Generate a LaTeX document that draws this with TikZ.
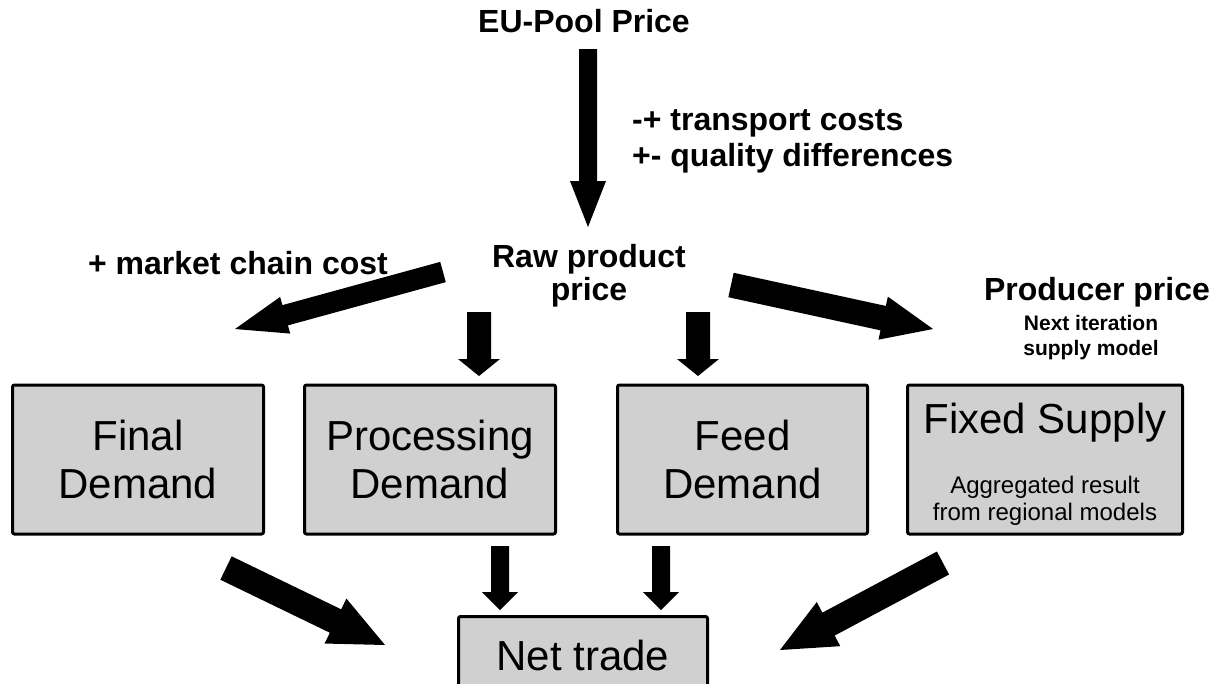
\documentclass[tikz,border=0pt]{standalone}
\usepackage{fontspec}
\setmainfont{Liberation Sans}
\usetikzlibrary{calc}
\definecolor{boxgray}{RGB}{208,208,208}
\newcommand{\fatarrow}[5]{%
  \path ($(#2)!#5!(#1)$) coordinate (fa-hb);
  \fill[arrowfill] ($(#1)!#3!90:(#2)$) -- ($(fa-hb)!#3!90:(#2)$) -- ($(fa-hb)!#4!90:(#2)$) -- (#2)
    -- ($(fa-hb)!#4!-90:(#2)$) -- ($(fa-hb)!#3!-90:(#2)$) -- ($(#1)!#3!-90:(#2)$) -- cycle;
}
\begin{document}
\begin{tikzpicture}[x=1pt,y=-1pt,
  box/.style={draw=black, line width=3pt, fill=boxgray, rounded corners=2pt, inner sep=0pt},
  boxtext/.style={font=\fontsize{42}{48}\selectfont, align=center},
  lbl/.style={font=\bfseries\fontsize{32}{36}\selectfont, inner sep=0pt},
  small/.style={font=\bfseries\fontsize{21}{25}\selectfont, inner sep=0pt, align=center},
  arrowfill/.style={fill=black}]
\useasboundingbox (0,0) rectangle (1212,683);
\clip (0,0) rectangle (1212,683);

% boxes
\node[box, minimum width=251pt, minimum height=149pt] (final) at (138,459.5) {};
\node[boxtext] at (final.center) {Final\\Demand};
\node[box, minimum width=251pt, minimum height=149pt] (proc) at (430,459.5) {};
\node[boxtext] at (proc.center) {Processing\\Demand};
\node[box, minimum width=250pt, minimum height=149pt] (feed) at (742.5,459.5) {};
\node[boxtext] at (feed.center) {Feed\\Demand};
\node[box, minimum width=275pt, minimum height=149pt] (fixed) at (1045,459.5) {};
\node[font=\fontsize{42}{48}\selectfont, anchor=base] (fixedt) at (1045,433) {Fixed Supply};
\node[font=\fontsize{24}{27}\selectfont, anchor=base, inner sep=0pt] (agg1) at (1045,493) {Aggregated result};
\node[font=\fontsize{24}{27}\selectfont, anchor=base, inner sep=0pt] (agg2) at (1045,520) {from regional models};
\node[box, minimum width=249pt, minimum height=77pt] (net) at (583,655) {};
\node[boxtext, anchor=base] (nett) at (583,670) {Net trade};

% labels
\node[lbl, anchor=base] (eu) at (584,32) {EU-Pool Price};
\node[lbl, anchor=base west] (tc) at (632,130) {-+ transport costs};
\node[lbl, anchor=base west] (qd) at (632,166) {+- quality differences};
\node[lbl, anchor=base] (raw1) at (589,267) {Raw product};
\node[lbl, anchor=base] (raw2) at (589,300) {price};
\node[lbl, anchor=base] (mcc) at (238,274) {+ market chain cost};
\node[lbl, anchor=base] (prod) at (1097,300) {Producer price};
\node[small, anchor=base] (ni1) at (1091,330) {Next iteration};
\node[small, anchor=base] (ni2) at (1091,355) {supply model};

% arrow end points
\coordinate (a1s) at (588,49);  \coordinate (a1e) at (588,227);
\coordinate (a2s) at (443,272); \coordinate (a2e) at (235,329);
\coordinate (a3s) at (731,285); \coordinate (a3e) at (933,329);
\coordinate (a4s) at (479,312); \coordinate (a4e) at (479,376);
\coordinate (a5s) at (698,312); \coordinate (a5e) at (698,376);
\coordinate (a6s) at (500,546); \coordinate (a6e) at (500,610);
\coordinate (a7s) at (661,546); \coordinate (a7e) at (661,610);
\coordinate (a8s) at (226,568); \coordinate (a8e) at (385,645);
\coordinate (a9s) at (943,563); \coordinate (a9e) at (780,650);

\fatarrow{a1s}{a1e}{9pt}{18pt}{46pt}
\fatarrow{a2s}{a2e}{10.5pt}{19pt}{52pt}
\fatarrow{a3s}{a3e}{12.5pt}{22pt}{51pt}
\fatarrow{a4s}{a4e}{12pt}{21pt}{17pt}
\fatarrow{a5s}{a5e}{12pt}{21pt}{17pt}
\fatarrow{a6s}{a6e}{9pt}{18pt}{18pt}
\fatarrow{a7s}{a7e}{9pt}{18pt}{18pt}
\fatarrow{a8s}{a8e}{13pt}{25pt}{55pt}
\fatarrow{a9s}{a9e}{13pt}{25pt}{55pt}
\end{tikzpicture}
\end{document}
